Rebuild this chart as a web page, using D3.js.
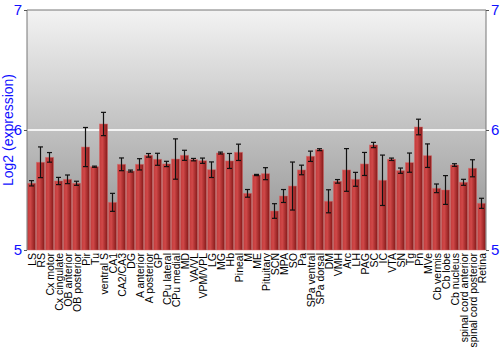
<!DOCTYPE html>
<html>
<head>
<meta charset="utf-8">
<script src="https://cdn.jsdelivr.net/npm/d3@7"></script>
<style>
  body { margin: 0; background: #fff; }
  svg text { font-family: "Liberation Sans", Arial, sans-serif; }
</style>
</head>
<body>
<div id="chart-area"></div>
<script>
// Tissue names
const regions = ["LS", "RS", "Cx motor", "Cx cingulate", "OB anterior", "OB posterior", "Pir", "Tu",
    "ventral S", "CA1", "CA2/CA3", "DG", "A anterior", "A posterior", "GP", "CPu lateral", "CPu medial",
    "MD", "VA/VL", "VPM/VPL", "LG", "MG", "Hb", "Pineal", "M", "ME", "Pituitary", "SCN", "MPA", "SO",
    "Pa", "SPa ventral", "SPa dorsal", "DM", "VMH", "Arc", "LH", "PAG", "SC", "IC", "VTA", "SN", "Tg",
    "Pn", "MVe", "Cb vermis", "Cb lobe", "Cb nucleus", "spinal cord anterior", "spinal cord posterior", "Retina"];

// Mean log2 expression
const means = [5.556, 5.731, 5.772, 5.575, 5.589, 5.556, 5.858, 5.694, 6.05, 5.397, 5.714, 5.658, 5.714,
    5.789, 5.756, 5.717, 5.758, 5.789, 5.753, 5.744, 5.669, 5.808, 5.742, 5.814, 5.472, 5.625, 5.636,
    5.325, 5.45, 5.533, 5.667, 5.781, 5.836, 5.406, 5.572, 5.667, 5.589, 5.717, 5.875, 5.581, 5.756,
    5.661, 5.728, 6.025, 5.786, 5.514, 5.5, 5.708, 5.564, 5.681, 5.389];

// Error (+/-)
const errs = [0.022, 0.128, 0.04, 0.03, 0.036, 0.017, 0.163, 0.005, 0.097, 0.075, 0.053, 0.008, 0.047,
    0.015, 0.05, 0.022, 0.168, 0.042, 0.01, 0.022, 0.065, 0.008, 0.0625, 0.068, 0.032, 0.005, 0.05,
    0.061, 0.054, 0.2, 0.04, 0.043, 0.008, 0.096, 0.015, 0.178, 0.058, 0.096, 0.022, 0.21, 0.01,
    0.022, 0.08, 0.065, 0.098, 0.036, 0.12, 0.011, 0.025, 0.071, 0.042];

const yTicks = [5, 6, 7];

const margin = { left: 27, right: 14, top: 10, bottom: 100 };
const width = 500 - margin.left - margin.right;
const height = 350 - margin.top - margin.bottom;

const svg = d3.select("#chart-area")
    .append("svg")
    .attr("width", 500)
    .attr("height", 350);

const defs = svg.append("defs");

const bgGrad = defs.append("linearGradient")
    .attr("id", "bg-grad")
    .attr("x1", 0).attr("y1", 0).attr("x2", 0).attr("y2", 1);
bgGrad.append("stop").attr("offset", "0%").attr("stop-color", "#f3f3f3");
bgGrad.append("stop").attr("offset", "100%").attr("stop-color", "#8e8e8e");

const barGrad = defs.append("linearGradient")
    .attr("id", "bar-grad")
    .attr("x1", 0).attr("y1", 0).attr("x2", 1).attr("y2", 0);
barGrad.append("stop").attr("offset", "0%").attr("stop-color", "#c23a3a");
barGrad.append("stop").attr("offset", "35%").attr("stop-color", "#d04848");
barGrad.append("stop").attr("offset", "100%").attr("stop-color", "#851818");

const g = svg.append("g")
    .attr("transform", `translate(${margin.left}, ${margin.top})`);

// Scales
const xScale = d3.scaleBand()
    .domain(regions)
    .range([0, width])
    .paddingInner(0.1)
    .paddingOuter(0.05);

const yScale = d3.scaleLinear()
    .domain([5, 7])
    .range([height, 0]);

// Background
g.append("rect")
    .attr("width", width)
    .attr("height", height)
    .attr("fill", "url(#bg-grad)");

// Grid line at 6
g.append("line")
    .attr("x1", 0).attr("x2", width)
    .attr("y1", yScale(6)).attr("y2", yScale(6))
    .attr("stroke", "#f4f4f4")
    .attr("stroke-width", 2);

// Bars
g.selectAll(".bar")
    .data(means)
    .enter().append("rect")
    .attr("class", "bar")
    .attr("x", (d, i) => xScale(regions[i]))
    .attr("y", d => yScale(d))
    .attr("width", xScale.bandwidth())
    .attr("height", d => height - yScale(d))
    .attr("fill", "url(#bar-grad)")
    .attr("stroke", "#d86a6a")
    .attr("stroke-opacity", 0.6)
    .attr("stroke-width", 0.8);

// Error bars
const eb = g.selectAll(".err")
    .data(means)
    .enter().append("g")
    .attr("class", "err")
    .attr("stroke", "#111")
    .attr("stroke-width", 1.2);

eb.append("line")
    .attr("x1", (d, i) => xScale(regions[i]) + xScale.bandwidth() / 2)
    .attr("x2", (d, i) => xScale(regions[i]) + xScale.bandwidth() / 2)
    .attr("y1", (d, i) => yScale(d + errs[i]))
    .attr("y2", (d, i) => yScale(d - errs[i]));

eb.append("line")
    .attr("x1", (d, i) => xScale(regions[i]) + xScale.bandwidth() / 2 - 2.5)
    .attr("x2", (d, i) => xScale(regions[i]) + xScale.bandwidth() / 2 + 2.5)
    .attr("y1", (d, i) => yScale(d + errs[i]))
    .attr("y2", (d, i) => yScale(d + errs[i]));

eb.append("line")
    .attr("x1", (d, i) => xScale(regions[i]) + xScale.bandwidth() / 2 - 2.5)
    .attr("x2", (d, i) => xScale(regions[i]) + xScale.bandwidth() / 2 + 2.5)
    .attr("y1", (d, i) => yScale(d - errs[i]))
    .attr("y2", (d, i) => yScale(d - errs[i]));

// Frame lines (top, left, right)
g.append("path")
    .attr("d", `M0,${height}V0H${width}V${height}`)
    .attr("fill", "none")
    .attr("stroke", "#777")
    .attr("stroke-width", 1);

// Axes
const yAxisLeft = g.append("g")
    .call(d3.axisLeft(yScale).tickValues(yTicks).tickFormat(d3.format("d")).tickSize(3).tickPadding(2));
const yAxisRight = g.append("g")
    .attr("transform", `translate(${width}, 0)`)
    .call(d3.axisRight(yScale).tickValues(yTicks).tickFormat(d3.format("d")).tickSize(3).tickPadding(2));

[yAxisLeft, yAxisRight].forEach(ax => {
    ax.select(".domain").remove();
    ax.selectAll(".tick line").attr("stroke", "#555");
    ax.selectAll(".tick text")
        .attr("fill", "#1010ff")
        .style("font-size", "15px");
});

// X labels
g.append("g")
    .selectAll("text")
    .data(regions)
    .enter().append("text")
    .attr("transform", d => `translate(${xScale(d) + xScale.bandwidth() / 2 + 4}, ${height + 3}) rotate(-90)`)
    .attr("text-anchor", "end")
    .style("font-size", "10.5px")
    .attr("fill", "#000")
    .text(d => d);

// Y axis label
svg.append("text")
    .attr("transform", `translate(13, ${margin.top + height / 2}) rotate(-90)`)
    .attr("text-anchor", "middle")
    .attr("fill", "#1010ff")
    .style("font-size", "14px")
    .text("Log2 (expression)");
</script>
</body>
</html>
